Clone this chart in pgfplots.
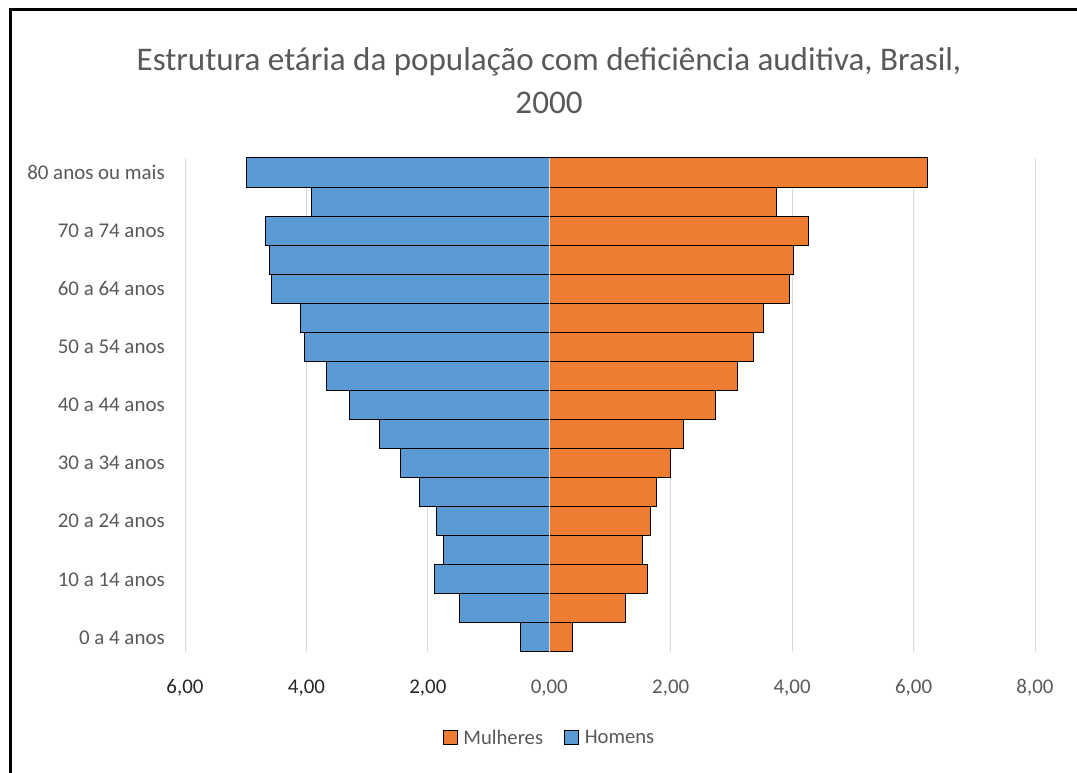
\documentclass[border=0pt]{standalone}
\usepackage{pgfplots}
\pgfplotsset{compat=1.18}
\usepackage{fontspec}
\setmainfont{Carlito}
\definecolor{hblue}{HTML}{5B9BD5}
\definecolor{morange}{HTML}{ED7D31}
\definecolor{txtgray}{HTML}{595959}
\definecolor{darktxt}{HTML}{262626}
\definecolor{gridgray}{HTML}{D9D9D9}
\pgfplotstableread{
y homens mulheres
0 -0.47 0.39
1 -1.48 1.25
2 -1.89 1.61
3 -1.74 1.54
4 -1.85 1.67
5 -2.13 1.76
6 -2.45 2.00
7 -2.79 2.21
8 -3.29 2.73
9 -3.67 3.10
10 -4.04 3.36
11 -4.10 3.53
12 -4.58 3.95
13 -4.61 4.02
14 -4.68 4.27
15 -3.91 3.75
16 -4.98 6.23
}\pyramid
\begin{document}
\begin{tikzpicture}
\useasboundingbox (0,0) rectangle (807.75pt,579.75pt);
\fill[white] (0,0) rectangle (807.75pt,579.75pt);
\draw[black, line width=2.25pt] (7.5pt,0) -- (7.5pt,572.6pt) -- (807.75pt,572.6pt);
\node[txtgray, font=\fontsize{24.8}{30}\selectfont] at (411.75pt,533.25pt) {Estrutura etária da população com deficiência auditiva, Brasil,};
\node[txtgray, font=\fontsize{24.8}{30}\selectfont] at (411.75pt,502.5pt) {2000};
\begin{axis}[
  at={(138.75pt,90.75pt)}, anchor=south west,
  scale only axis, width=637.5pt, height=370.5pt,
  xmin=-6, xmax=8, ymin=-0.5, ymax=16.5,
  xbar, bar width=1, bar shift=0pt,
  axis line style={draw=none},
  major tick length=0pt,
  xtick={-6,-4,-2,0,2,4,6,8},
  xticklabels={{\textcolor{darktxt}{6,00}},{\textcolor{darktxt}{4,00}},{\textcolor{darktxt}{2,00}},{0,00},{2,00},{4,00},{6,00},{8,00}},
  ytick={0,2,4,6,8,10,12,14,16},
  yticklabels={0 a 4 anos,10 a 14 anos,20 a 24 anos,30 a 34 anos,40 a 44 anos,50 a 54 anos,60 a 64 anos,70 a 74 anos,80 anos ou mais},
  tick label style={font=\fontsize{15.7}{18}\selectfont, text=txtgray},
  xticklabel style={anchor=center, yshift=-27pt},
  yticklabel style={anchor=east, inner sep=0pt, xshift=-15pt},
  xmajorgrids, major grid style={gridgray, line width=0.75pt},
  legend style={at={(0.4294,-0.174)}, anchor=center, draw=none, fill=none,
    legend columns=2, font=\fontsize{15.5}{18}\selectfont, text=txtgray,
    /tikz/every even column/.append style={column sep=14pt},
    /tikz/every odd column/.append style={column sep=2pt}},
]
\addplot[fill=morange, draw=black, line width=0.75pt,
  legend image code/.code={\draw[fill=morange, draw=black, line width=0.75pt] (0pt,-5.25pt) rectangle (10.5pt,5.25pt);}]
  table[x=mulheres, y=y] {\pyramid};
\addlegendentry{Mulheres}
\addplot[fill=hblue, draw=black, line width=0.75pt,
  legend image code/.code={\draw[fill=hblue, draw=black, line width=0.75pt] (0pt,-5.25pt) rectangle (10.5pt,5.25pt);}]
  table[x=homens, y=y] {\pyramid};
\addlegendentry{Homens}
\draw[gridgray, line width=1pt] (axis cs:0,-0.5) -- (axis cs:0,16.5);
\end{axis}
\end{tikzpicture}
\end{document}
